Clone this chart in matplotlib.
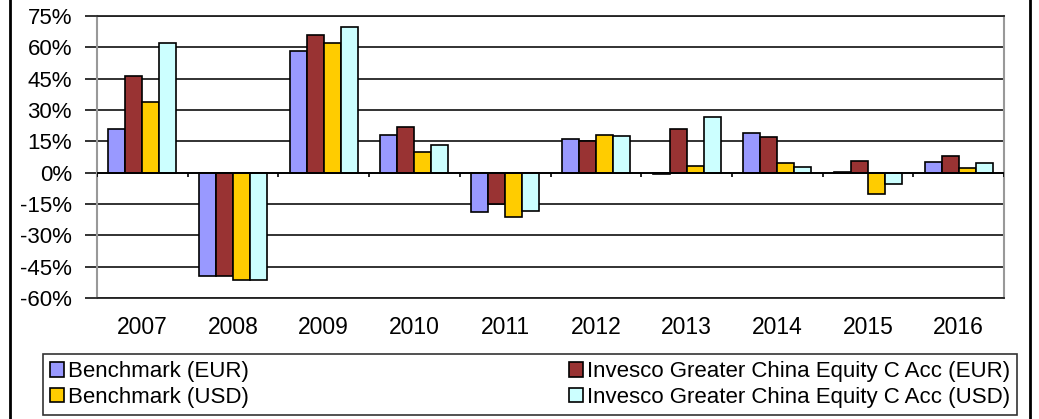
import matplotlib.pyplot as plt
import numpy as np
from matplotlib.lines import Line2D

plt.rcParams['font.family'] = ['Liberation Sans', 'DejaVu Sans']

years = ['2007', '2008', '2009', '2010', '2011', '2012', '2013', '2014', '2015', '2016']
bench_eur = [20.9, -49.5, 58.1, 18.0, -18.7, 16.1, -0.5, 19.0, 0.3, 4.9]
fund_eur = [46.1, -49.6, 65.7, 21.7, -15.0, 15.3, 20.9, 16.9, 5.6, 8.1]
bench_usd = [33.7, -51.4, 62.2, 9.7, -21.4, 18.0, 3.4, 4.5, -10.2, 2.1]
fund_usd = [61.9, -51.4, 69.9, 13.4, -18.2, 17.6, 26.5, 2.5, -5.4, 4.6]

series = [
    ('Benchmark (EUR)', bench_eur, '#9999FF'),
    ('Invesco Greater China Equity C Acc (EUR)', fund_eur, '#993333'),
    ('Benchmark (USD)', bench_usd, '#FFCC00'),
    ('Invesco Greater China Equity C Acc (USD)', fund_usd, '#CCFFFF'),
]

fig = plt.figure(figsize=(10.39, 4.19), dpi=100)
ax = fig.add_axes([0.0934, 0.2888, 0.8729, 0.673])

x = np.arange(len(years))
w = 0.75 / 4
bars = {}
for i, (name, vals, col) in enumerate(series):
    bars[name] = ax.bar(x - 0.375 + w * (i + 0.5), vals, w, color=col,
                        edgecolor='black', linewidth=1.2, zorder=3, label=name)

ax.set_xlim(-0.5, len(years) - 0.5)
ax.set_ylim(-60, 75)
ax.set_yticks(np.arange(-60, 76, 15))
ax.set_yticklabels([f'{v}%' for v in range(-60, 76, 15)])
ax.grid(axis='y', color='#222222', linewidth=1.3, zorder=1)
ax.axhline(0, color='black', linewidth=1.3, zorder=4)
bounds = np.arange(len(years) + 1) - 0.5
ax.vlines(bounds, -2.2, 0, color='black', linewidth=1.2, zorder=4)

ax.set_xticks(x)
ax.set_xticklabels(years)
ax.tick_params(axis='x', length=0, pad=13, labelsize=16.5)
ax.tick_params(axis='y', length=9, width=1.3, color='#222222', pad=9, labelsize=16)
for s in ['left', 'right']:
    ax.spines[s].set_color('#999999')
    ax.spines[s].set_linewidth(1.5)
for s in ['top', 'bottom']:
    ax.spines[s].set_color('#222222')
    ax.spines[s].set_linewidth(1.3)

handles = [bars[series[0][0]], bars[series[2][0]], bars[series[1][0]], bars[series[3][0]]]
labels = [series[0][0], series[2][0], series[1][0], series[3][0]]
leg = fig.legend(handles, labels, ncol=2, loc='lower left',
                 bbox_to_anchor=(43 / 1039, 4 / 419, 974 / 1039, 61 / 419),
                 mode='expand', fontsize=16, frameon=True, fancybox=False,
                 edgecolor='black', handlelength=0.62, handleheight=0.62,
                 handletextpad=0.18, labelspacing=0.2, borderpad=0.32,
                 borderaxespad=0)
leg.get_frame().set_linewidth(1.2)

fig.add_artist(Line2D([10 / 1039, 10 / 1039], [0, 1], color='black', linewidth=2))
fig.add_artist(Line2D([1030 / 1039, 1030 / 1039], [0, 1], color='black', linewidth=2))

fig.savefig('out.png', dpi=100)
